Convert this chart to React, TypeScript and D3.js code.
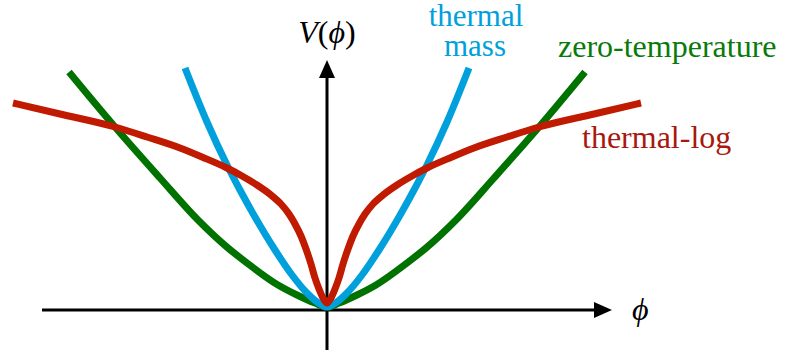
import React from "react";
import * as d3 from "d3";

// Field value φ and potential V(φ) for each curve (φ and V in the same units)
const zeroTempPhi = [-2.58, -2.12, -1.67, -1.29, -0.99, -0.8, -0.49, -0.3, -0.12, 0, 0.12, 0.3, 0.49, 0.8, 0.99, 1.29, 1.67, 2.12, 2.58];
const zeroTempV = [2.38, 1.83, 1.32, 0.9, 0.62, 0.47, 0.25, 0.15, 0.07, 0.03, 0.07, 0.15, 0.25, 0.47, 0.62, 0.9, 1.32, 1.83, 2.38];

const thermalMassPhi = [-1.42, -1.2, -1.0, -0.87, -0.72, -0.52, -0.35, -0.2, -0.07, 0, 0.07, 0.2, 0.35, 0.52, 0.72, 0.87, 1.0, 1.2, 1.42];
const thermalMassV = [2.42, 1.88, 1.45, 1.2, 0.93, 0.6, 0.35, 0.17, 0.06, 0.03, 0.06, 0.17, 0.35, 0.6, 0.93, 1.2, 1.45, 1.88, 2.42];

const thermalLogPhi = [-3.14, -2.67, -2.12, -1.8, -1.47, -1.25, -1.0, -0.85, -0.7, -0.56, -0.46, -0.38, -0.32, -0.26, -0.21, -0.16, -0.12, -0.08, -0.04, 0, 0.04, 0.08, 0.12, 0.16, 0.21, 0.26, 0.32, 0.38, 0.46, 0.56, 0.7, 0.85, 1.0, 1.25, 1.47, 1.8, 2.12, 2.67, 3.14];
const thermalLogV = [2.07, 1.96, 1.83, 1.73, 1.62, 1.53, 1.42, 1.34, 1.25, 1.15, 1.06, 0.96, 0.86, 0.74, 0.61, 0.46, 0.32, 0.21, 0.12, 0.07, 0.12, 0.21, 0.32, 0.46, 0.61, 0.74, 0.86, 0.96, 1.06, 1.15, 1.25, 1.34, 1.42, 1.53, 1.62, 1.73, 1.83, 1.96, 2.07];

// Axis extents (data units)
const phiAxisExtent = [-2.85, 2.85];
const vAxisExtent = [-0.4, 2.5];

const W = 791;
const H = 358;

const RED = "#c01a00";
const BLUE = "#00a0dc";
const GREEN = "#007200";

const x = d3.scaleLinear().domain([0, 1]).range([327, 427]);
const y = d3.scaleLinear().domain([0, 1]).range([310, 210]);

const line = d3
  .line<[number, number]>()
  .x((d) => x(d[0]))
  .y((d) => y(d[1]))
  .curve(d3.curveMonotoneX);

const zip = (a: number[], b: number[]): [number, number][] => a.map((v, i) => [v, b[i]]);

const serif = "Liberation Serif, Times New Roman, Times, DejaVu Serif, Noto Serif, serif";
const textStyle: React.CSSProperties = { fontFamily: serif, fontSize: 32 };

export default function App() {
  const x0 = x(0);
  const y0 = y(0);
  const xLeft = x(phiAxisExtent[0]);
  const xTip = x(phiAxisExtent[1]);
  const yBottom = y(vAxisExtent[0]);
  const yTip = y(vAxisExtent[1]);
  const headLen = 18;
  const headHalf = 8;

  return (
    <svg
      width={W}
      height={H}
      style={{ position: "absolute", left: 0, top: 0, background: "#fff" }}
    >
      {/* axes */}
      <line x1={xLeft} y1={y0} x2={xTip - headLen + 1} y2={y0} stroke="#000" strokeWidth={3} />
      <path
        d={`M${xTip},${y0} L${xTip - headLen},${y0 - headHalf} L${xTip - headLen},${y0 + headHalf} Z`}
        fill="#000"
      />
      <line x1={x0} y1={yBottom} x2={x0} y2={yTip + headLen - 1} stroke="#000" strokeWidth={3} />
      <path
        d={`M${x0},${yTip} L${x0 - headHalf},${yTip + headLen} L${x0 + headHalf},${yTip + headLen} Z`}
        fill="#000"
      />

      {/* curves */}
      <path d={line(zip(zeroTempPhi, zeroTempV)) ?? ""} fill="none" stroke={GREEN} strokeWidth={7} />
      <path d={line(zip(thermalMassPhi, thermalMassV)) ?? ""} fill="none" stroke={BLUE} strokeWidth={7} />
      <path d={line(zip(thermalLogPhi, thermalLogV)) ?? ""} fill="none" stroke={RED} strokeWidth={7} />

      {/* labels */}
      <text x={x0} y={43} textAnchor="middle" style={textStyle} fill="#000">
        <tspan fontStyle="italic">V</tspan>
        <tspan>(</tspan>
        <tspan fontStyle="italic">ϕ</tspan>
        <tspan>)</tspan>
      </text>
      <text x={632} y={320} style={textStyle} fontStyle="italic" fill="#000">
        ϕ
      </text>
      <text textAnchor="middle" style={{ ...textStyle, fontSize: 31 }} fill={BLUE}>
        <tspan x={476} y={26}>thermal</tspan>
        <tspan x={475} y={56}>mass</tspan>
      </text>
      <text x={558} y={57} style={textStyle} fill="#0a7a0a">
        zero-temperature
      </text>
      <text x={582} y={148} style={textStyle} fill="#a8180c">
        thermal-log
      </text>
    </svg>
  );
}
